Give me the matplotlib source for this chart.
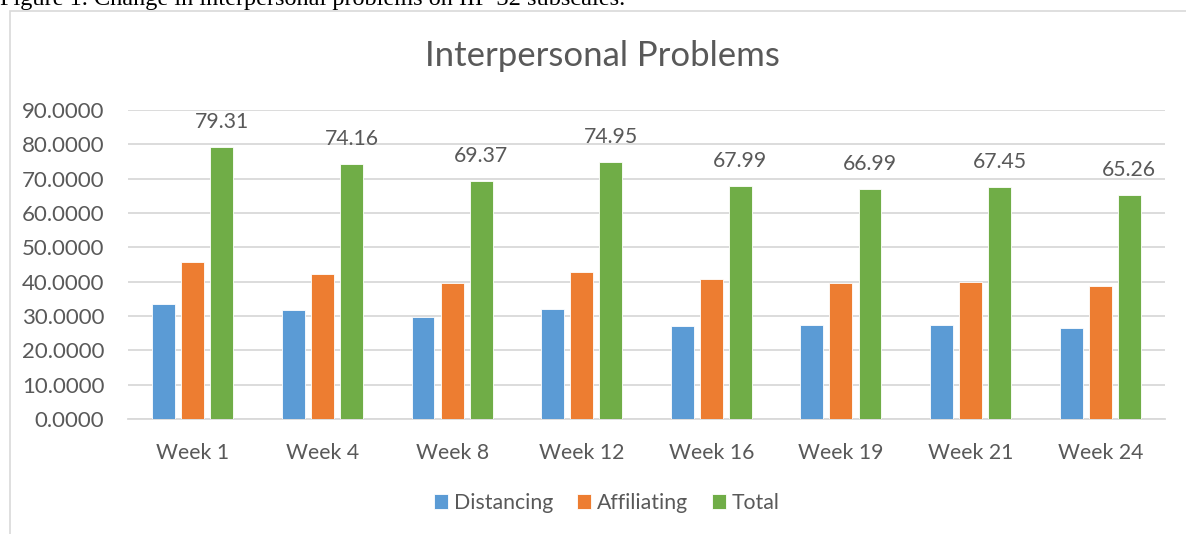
import matplotlib
matplotlib.use("Agg")
import numpy as np
from matplotlib import pyplot as plt
from matplotlib.patches import Rectangle

weeks = ['Week 1', 'Week 4', 'Week 8', 'Week 12', 'Week 16', 'Week 19', 'Week 21', 'Week 24']
distancing = [33.4, 31.8, 29.8, 31.9, 27.0, 27.4, 27.4, 26.5]
affiliating = [45.8, 42.2, 39.5, 42.9, 40.8, 39.5, 39.9, 38.7]
total = [79.31, 74.16, 69.37, 74.95, 67.99, 66.99, 67.45, 65.26]
series_names = ['Distancing', 'Affiliating', 'Total']
colors = ['#5b9bd5', '#ed7d31', '#70ad47']
yticks = [0, 10, 20, 30, 40, 50, 60, 70, 80, 90]

text_color = '#595959'
plt.rcParams['font.family'] = ['Lato', 'DejaVu Sans']

fig = plt.figure(figsize=(11.86, 5.34), dpi=100)

# chart frame (runs off the right and bottom edges like the cropped screenshot)
fig.patches.append(Rectangle((10 / 1186, -0.1), 1.2, 1 - 11 / 534 + 0.1,
                             transform=fig.transFigure, fill=False,
                             edgecolor='#d9d9d9', linewidth=1.2))

# cropped caption above the chart
fig.text(0.0, 1 - 5 / 534, 'Figure 1. Change in interpersonal problems on IIP-32 subscales.',
         family='Liberation Serif', fontsize=17.5, color='black', va='baseline', ha='left')

ax = fig.add_axes([128 / 1186, 1 - 419 / 534, (1165 - 128) / 1186, (419 - 110) / 534])

x = np.arange(len(weeks))
step = 0.224
width = 0.177
for k, (vals, name, c) in enumerate(zip([distancing, affiliating, total], series_names, colors)):
    bars = ax.bar(x + (k - 1) * step, vals, width, color=c, label=name,
                  edgecolor='white', linewidth=0.6, zorder=3)
    if name == 'Total':
        for b, v in zip(bars, vals):
            ax.annotate('%.2f' % v, (b.get_x() + b.get_width() / 2, v),
                        xytext=(0, 18), textcoords='offset points',
                        ha='center', va='center', fontsize=15.3, color=text_color)

ax.set_xlim(-0.5, len(weeks) - 0.5)
ax.set_ylim(0, 90)
ax.set_yticks(yticks)
ax.set_yticklabels(['%.4f' % t for t in yticks], fontsize=16, color=text_color)
ax.set_xticks(x)
ax.set_xticklabels(weeks, fontsize=15.3, color=text_color)
ax.tick_params(axis='both', length=0)
ax.tick_params(axis='y', pad=17)
ax.tick_params(axis='x', pad=17)
ax.yaxis.grid(True, color='#d9d9d9', linewidth=1.3, zorder=0)
ax.set_axisbelow(True)
for s in ['top', 'right', 'left']:
    ax.spines[s].set_visible(False)
ax.spines['bottom'].set_color('#d9d9d9')
ax.spines['bottom'].set_linewidth(1.3)

fig.text(602 / 1186, 1 - 56 / 534, 'Interpersonal Problems', fontsize=25,
         color=text_color, ha='center', va='center')

fig.legend(loc='center', bbox_to_anchor=(607 / 1186, 1 - 503 / 534), ncol=3,
           frameon=False, fontsize=15.3, handlelength=0.65, handleheight=0.65,
           handletextpad=0.3, columnspacing=1.1, labelcolor=text_color)

fig.savefig('out.png', dpi=100)
